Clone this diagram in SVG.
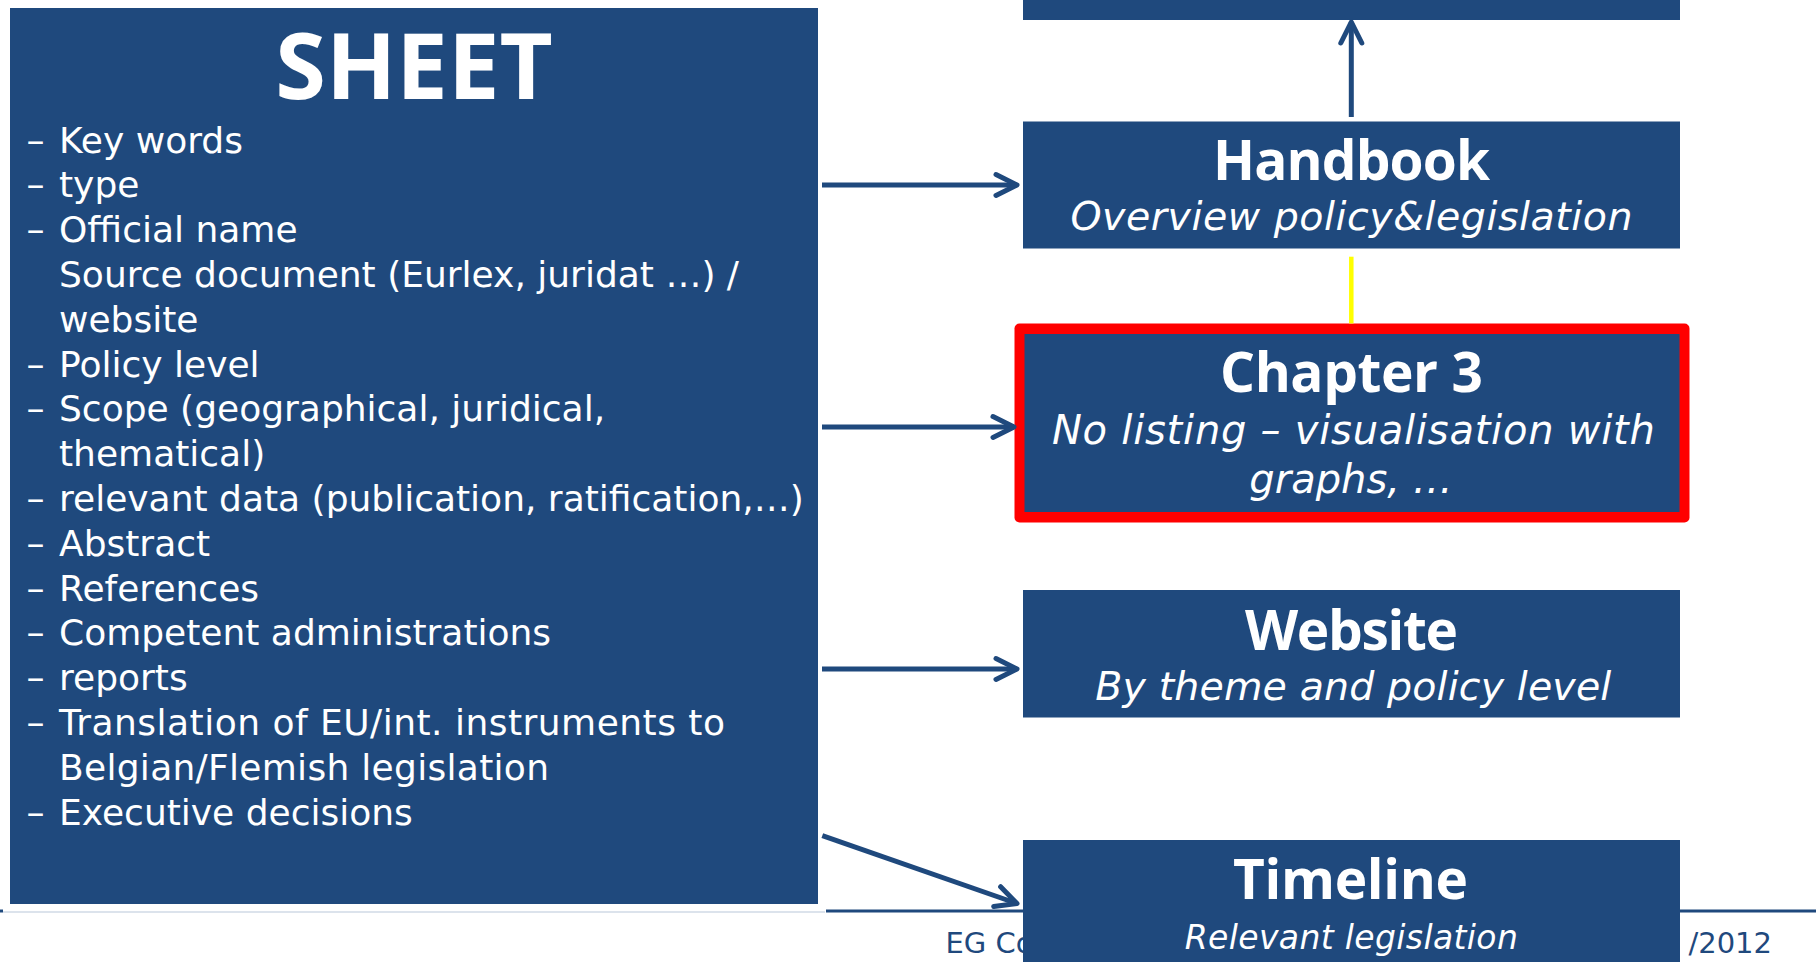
<svg xmlns="http://www.w3.org/2000/svg" width="1816" height="962" viewBox="0 0 1816 962">
  <style>
    .box { fill: #1F497D; }
    .item { font-family: "DejaVu Sans", "Liberation Sans", sans-serif; font-size: 36px; fill: #FFFFFF; }
    .title { font-family: "Open Sans", "DejaVu Sans", sans-serif; font-weight: 700; fill: #FFFFFF; text-anchor: middle; }
    .sub { font-family: "DejaVu Sans", "Liberation Sans", sans-serif; font-style: italic; fill: #FFFFFF; text-anchor: middle; }
    .foot { font-family: "DejaVu Sans", "Liberation Sans", sans-serif; font-size: 29px; fill: #1F497D; }
    .conn { stroke: #1F497D; stroke-width: 5; fill: none; }
  </style>
  <defs>
    <marker id="chev" markerUnits="userSpaceOnUse" viewBox="-26 -15 30 30" markerWidth="30" markerHeight="30" refX="0" refY="0" orient="auto">
      <path d="M -21 -10.5 L 0 0 L -21 10.5" fill="none" stroke="#1F497D" stroke-width="5" stroke-linecap="round" stroke-linejoin="round"/>
    </marker>
  </defs>

  <rect x="0" y="0" width="1816" height="962" fill="#FFFFFF"/>

  <g id="footer">
    <line x1="0" y1="911" x2="3" y2="911" stroke="#1F497D" stroke-width="3"/>
    <line x1="3" y1="912" x2="825" y2="912" stroke="#DCE3EC" stroke-width="2"/>
    <line x1="826" y1="911" x2="1816" y2="911" stroke="#1F497D" stroke-width="3"/>
    <text class="foot" x="945.5" y="952.5">EG Co</text>
    <text class="foot" x="1772" y="952.5" text-anchor="end">/2012</text>
  </g>

  <g id="sheet">
    <rect class="box" x="10" y="8" width="808" height="896"/>
    <text class="title" x="414" y="99" font-size="92">SHEET</text>
    <g class="item">
      <text x="26.5" y="152.5">–</text><text x="59" y="152.5">Key words</text>
      <text x="26.5" y="197.3">–</text><text x="59" y="197.3">type</text>
      <text x="26.5" y="242.1">–</text><text x="59" y="242.1">Official name</text>
      <text x="59" y="286.9">Source document (Eurlex, juridat …) /</text>
      <text x="59" y="331.7">website</text>
      <text x="26.5" y="376.5">–</text><text x="59" y="376.5">Policy level</text>
      <text x="26.5" y="421.3">–</text><text x="59" y="421.3">Scope (geographical, juridical,</text>
      <text x="59" y="466.1">thematical)</text>
      <text x="26.5" y="510.9">–</text><text x="59" y="510.9">relevant data (publication, ratification,…)</text>
      <text x="26.5" y="555.7">–</text><text x="59" y="555.7">Abstract</text>
      <text x="26.5" y="600.5">–</text><text x="59" y="600.5">References</text>
      <text x="26.5" y="645.3">–</text><text x="59" y="645.3">Competent administrations</text>
      <text x="26.5" y="690.1">–</text><text x="59" y="690.1">reports</text>
      <text x="26.5" y="734.9">–</text><text x="59" y="734.9" textLength="666">Translation of EU/int. instruments to</text>
      <text x="59" y="779.7" textLength="490">Belgian/Flemish legislation</text>
      <text x="26.5" y="824.5">–</text><text x="59" y="824.5">Executive decisions</text>
    </g>
  </g>

  <g id="top-box">
    <rect class="box" x="1023" y="-2" width="657" height="22"/>
  </g>

  <g id="handbook">
    <rect class="box" x="1023" y="121.5" width="657" height="127"/>
    <text class="title" x="1351.5" y="180" font-size="55" textLength="277">Handbook</text>
    <text class="sub" x="1351.5" y="230" font-size="39.5" textLength="562">Overview policy&amp;legislation</text>
  </g>

  <g id="chapter3">
    <rect x="1014.5" y="323.5" width="675" height="199" rx="5" fill="#FF0000"/>
    <rect class="box" x="1024.5" y="334" width="655" height="178"/>
    <text class="title" x="1351.5" y="391.5" font-size="55" textLength="263">Chapter 3</text>
    <text class="sub" x="1353.4" y="444" font-size="40" textLength="603">No listing – visualisation with</text>
    <text class="sub" x="1351" y="493" font-size="40">graphs, …</text>
  </g>

  <g id="website">
    <rect class="box" x="1023" y="590" width="657" height="127.5"/>
    <text class="title" x="1351.5" y="650" font-size="55" textLength="213">Website</text>
    <text class="sub" x="1353.3" y="699.5" font-size="39.5" textLength="516">By theme and policy level</text>
  </g>

  <g id="timeline">
    <rect class="box" x="1023" y="840" width="657" height="130"/>
    <text class="title" x="1350.5" y="898.5" font-size="55" textLength="235">Timeline</text>
    <text class="sub" x="1351.3" y="949.3" font-size="33" textLength="333">Relevant legislation</text>
  </g>

  <g id="connectors">
    <line class="conn" x1="822" y1="185" x2="1017" y2="185" marker-end="url(#chev)"/>
    <line class="conn" x1="822" y1="427" x2="1014" y2="427" marker-end="url(#chev)"/>
    <line class="conn" x1="822" y1="669" x2="1017" y2="669" marker-end="url(#chev)"/>
    <line class="conn" x1="822.3" y1="835.7" x2="1017" y2="903.5" marker-end="url(#chev)"/>
    <line class="conn" x1="1351.3" y1="117" x2="1351.3" y2="22" marker-end="url(#chev)"/>
    <line x1="1351.3" y1="256.7" x2="1351.3" y2="323.5" stroke="#FFFF00" stroke-width="4.5"/>
  </g>
</svg>
